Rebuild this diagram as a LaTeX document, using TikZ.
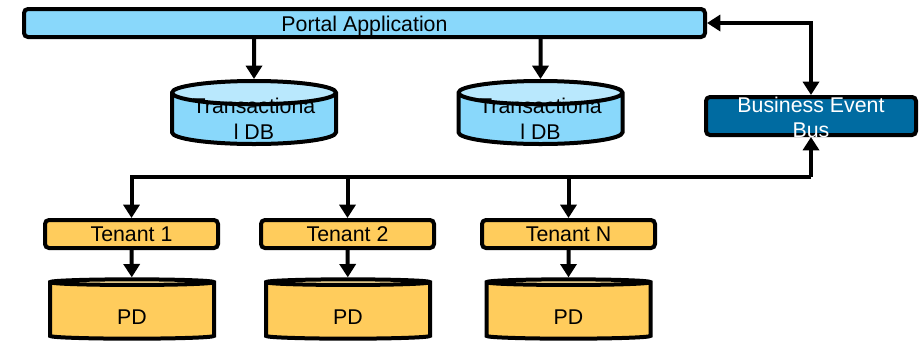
\documentclass[tikz,border=0pt]{standalone}
\usepackage{fontspec}
\setmainfont{Liberation Sans}
\usetikzlibrary{shapes.geometric,arrows.meta}
\definecolor{appblue}{HTML}{89D8FB}
\definecolor{apptop}{HTML}{B9E8FD}
\definecolor{busblue}{HTML}{006BA1}
\definecolor{tenantgold}{HTML}{FFCC5C}
\definecolor{tenanttop}{HTML}{FFE29C}
\begin{document}
\begin{tikzpicture}[x=0.75pt,y=-0.75pt,
  font=\fontsize{16}{19}\selectfont,
  bar/.style={draw,line width=3pt,rounded corners=3pt,inner sep=0pt,minimum height=21pt},
  tenantbar/.style={bar,fill=tenantgold,minimum width=129.75pt},
  store/.style={draw,line width=3pt,cylinder,shape border rotate=90,aspect=0.19,anchor=shape center,
    inner sep=0pt,cylinder uses custom fill,minimum width=123pt,align=center},
  txstore/.style={store,cylinder body fill=appblue,cylinder end fill=apptop,minimum height=47.25pt},
  pdstore/.style={store,cylinder body fill=tenantgold,cylinder end fill=tenanttop,minimum height=44.5pt},
  link/.style={line width=3pt,-{Triangle[width=12pt,length=10pt]}}]
\useasboundingbox (0,0) rectangle (920,340);

% portal and its stores
\node[bar,fill=appblue,minimum width=510.75pt] (portal) at (364.5,23) {\raisebox{-6.5pt}[0pt][0pt]{Portal Application}};
\node[txstore] (txdb1) at (254,112.5) {\raisebox{-6pt}[0pt][0pt]{\begin{tabular}{@{}c@{}}Transactiona\\l DB\end{tabular}}};
\node[txstore] (txdb2) at (540.5,112.5) {\raisebox{-6pt}[0pt][0pt]{\begin{tabular}{@{}c@{}}Transactiona\\l DB\end{tabular}}};
\node[bar,fill=busblue,text=white,minimum width=157.5pt,minimum height=28.5pt] (bus) at (811,116)
  {\raisebox{-7.5pt}[0pt][0pt]{\begin{tabular}{@{}c@{}}Business Event\\Bus\end{tabular}}};

% tenants
\node[tenantbar] (t1) at (131.5,234) {Tenant 1};
\node[tenantbar] (t2) at (347.5,234) {Tenant 2};
\node[tenantbar] (tn) at (568.5,234) {Tenant N};
\node[pdstore] (pd1) at (132,309) {\raisebox{-9.5pt}[0pt][0pt]{PD}};
\node[pdstore] (pd2) at (348,309) {\raisebox{-9.5pt}[0pt][0pt]{PD}};
\node[pdstore] (pdn) at (568.5,309) {\raisebox{-9.5pt}[0pt][0pt]{PD}};

\draw[link] (portal.south -| txdb1) -- (txdb1.north);
\draw[link] (portal.south -| txdb2) -- (txdb2.north);
\draw[link,{Triangle[width=12pt,length=10pt]}-{Triangle[width=12pt,length=10pt]}] (portal.east) -| (bus.north);

\coordinate (hub) at (bus.south |- 0,177);
\draw[link] (hub) -- (bus.south);
\draw[link] (hub) -| (t1.north);
\draw[link] (t2.north |- hub) -- (t2.north);
\draw[link] (tn.north |- hub) -- (tn.north);

\draw[link] (t1) -- (pd1);
\draw[link] (t2) -- (pd2);
\draw[link] (tn) -- (pdn);
\end{tikzpicture}
\end{document}
